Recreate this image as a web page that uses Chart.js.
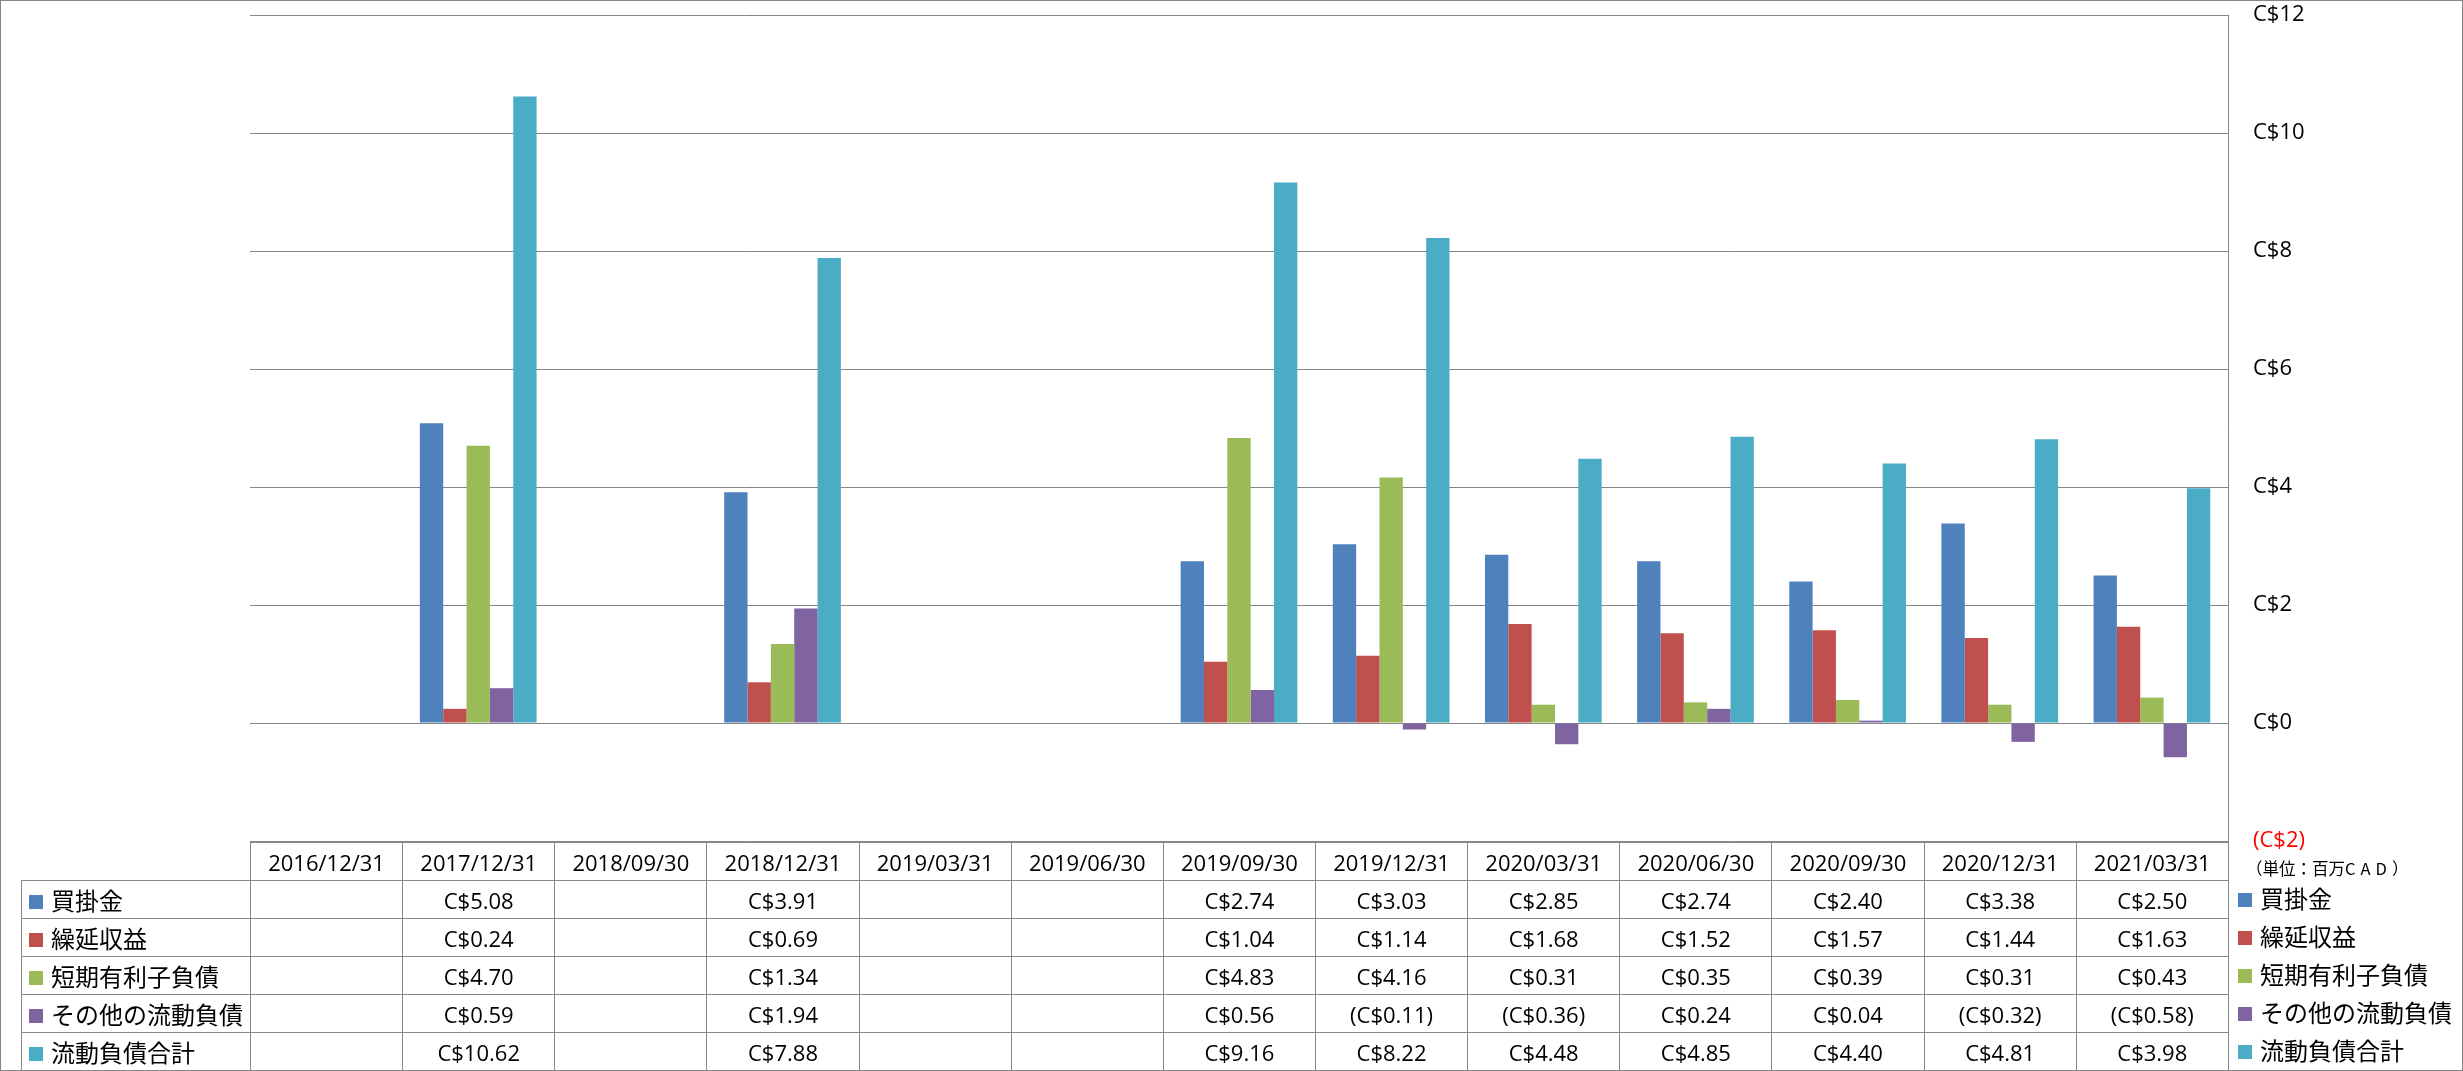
<!DOCTYPE html>
<html>
<head>
<meta charset="utf-8">
<script src="https://cdn.jsdelivr.net/npm/chart.js@4/dist/chart.umd.min.js"></script>
<style>
    html, body { margin: 0; padding: 0; background: #fff; }
    #wrap { position: relative; width: 2463px; height: 1071px; overflow: hidden; font-family: 'Open Sans', 'Noto Sans CJK JP', sans-serif; }
    #chart { position: absolute; left: 0; top: 0; }
    #frame { position: absolute; left: 0; top: 0; width: 2463px; height: 1071px; box-sizing: border-box; border: 1px solid #868686; pointer-events: none; }
    #dataTable { position: absolute; left: 21px; top: 842px; border-collapse: collapse; table-layout: fixed; width: 2207px; }
    #dataTable td { border: 1px solid #898989; text-align: center; font-size: 22px; color: #000; padding: 0; height: 37px; white-space: nowrap; overflow: hidden; }
    #dataTable td.corner { border-top: none; border-left: none; }
    #dataTable td.lbl { text-align: left; padding-left: 7px; font-family: 'Noto Sans CJK JP', sans-serif; font-size: 24px; }
    .sw { display: inline-block; width: 14px; height: 14px; margin-right: 8px; vertical-align: 1px; }
    #unit { position: absolute; left: 2246px; top: 857px; font-family: 'Noto Sans CJK JP', sans-serif; font-size: 16.5px; line-height: 22px; color: #000; white-space: nowrap; }
    #unit .lat { letter-spacing: 5px; }
    #legend { position: absolute; left: 2238px; top: 879px; }
    #legend div { height: 38px; line-height: 38px; font-family: 'Noto Sans CJK JP', sans-serif; font-size: 24px; white-space: nowrap; }
</style>
</head>
<body>
<div id="wrap">
    <canvas id="chart" width="2463" height="1071"></canvas>
    <table id="dataTable"></table>
    <div id="unit">（単位：百万<span class="lat">CAD</span>）</div>
    <div id="legend"></div>
    <div id="frame"></div>
</div>
<script>
// --- Data ---
const categories = ['2016/12/31', '2017/12/31', '2018/09/30', '2018/12/31', '2019/03/31', '2019/06/30',
    '2019/09/30', '2019/12/31', '2020/03/31', '2020/06/30', '2020/09/30', '2020/12/31', '2021/03/31'];
const seriesNames = ['買掛金', '繰延収益', '短期有利子負債', 'その他の流動負債', '流動負債合計'];
const seriesColors = ['#4F81BD', '#C0504D', '#9BBB59', '#8064A2', '#4BACC6'];
const payables = [null, 5.08, null, 3.91, null, null, 2.74, 3.03, 2.85, 2.74, 2.40, 3.38, 2.50];
const deferredRevenue = [null, 0.24, null, 0.69, null, null, 1.04, 1.14, 1.68, 1.52, 1.57, 1.44, 1.63];
const shortTermDebt = [null, 4.70, null, 1.34, null, null, 4.83, 4.16, 0.31, 0.35, 0.39, 0.31, 0.43];
const otherCurrent = [null, 0.59, null, 1.94, null, null, 0.56, -0.11, -0.36, 0.24, 0.04, -0.32, -0.58];
const totalCurrent = [null, 10.62, null, 7.88, null, null, 9.16, 8.22, 4.48, 4.85, 4.40, 4.81, 3.98];
const seriesValues = [payables, deferredRevenue, shortTermDebt, otherCurrent, totalCurrent];
const yMin = -2, yMax = 12, yStep = 2;

const fmtMoney = (v, dec) => v < 0 ? `(C$${(-v).toFixed(dec)})` : `C$${v.toFixed(dec)}`;

// --- Table under the plot ---
function buildTable() {
    const t = document.getElementById('dataTable');
    let html = '<colgroup><col style="width:229px">' + categories.map(() => '<col style="width:152.15px">').join('') + '</colgroup>';
    html += '<tr><td class="corner"></td>' + categories.map(c => `<td>${c}</td>`).join('') + '</tr>';
    seriesNames.forEach((name, i) => {
        html += `<tr style="height:38px"><td class="lbl"><span class="sw" style="background:${seriesColors[i]}"></span>${name}</td>`;
        html += seriesValues[i].map(v => `<td>${v === null ? '' : fmtMoney(v, 2)}</td>`).join('') + '</tr>';
    });
    t.innerHTML = html;

    document.getElementById('legend').innerHTML = seriesNames.map((name, i) =>
        `<div><span class="sw" style="background:${seriesColors[i]}"></span>${name}</div>`).join('');
}

// --- Chart ---
function renderChart() {
    const ctx = document.getElementById('chart');
    new Chart(ctx, {
        type: 'bar',
        data: {
            labels: categories,
            datasets: seriesNames.map((name, i) => ({
                label: name,
                data: seriesValues[i],
                backgroundColor: seriesColors[i],
                borderWidth: 0,
                categoryPercentage: 0.767,
                barPercentage: 1.0
            }))
        },
        options: {
            responsive: false,
            devicePixelRatio: 1,
            animation: false,
            layout: { padding: { left: 250, top: 15, right: 0, bottom: 230 } },
            plugins: { legend: { display: false }, tooltip: { enabled: false } },
            scales: {
                x: { display: false },
                y: {
                    position: 'right',
                    min: yMin, max: yMax,
                    // keep the plot box where the reference has it
                    afterFit: s => { s.width = 235; s.paddingTop = 0; s.paddingBottom = 0; },
                    border: { display: true, color: '#868686', width: 1 },
                    grid: { color: '#868686', lineWidth: 1, drawTicks: false },
                    ticks: {
                        stepSize: yStep,
                        padding: 25,
                        font: { family: 'Open Sans', size: 22 },
                        color: c => c.tick.value < 0 ? '#FF0000' : '#000000',
                        callback: v => fmtMoney(v, 0)
                    }
                }
            }
        }
    });
}

buildTable();
renderChart();
</script>
</body>
</html>
